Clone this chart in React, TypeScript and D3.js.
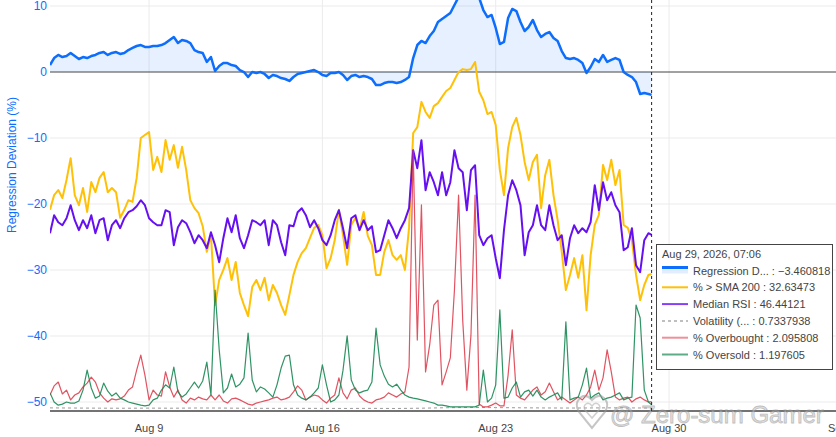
import * as d3 from "d3";

// 4-hourly readings from Aug 5 00:00 UTC, last value is the hovered point (Aug 29 07:06)
const regressionDeviation = [
  1.06, 2.12, 2.58, 2.27, 2.42, 2.88, 2.42, 1.97, 2.27, 2.12,
  2.42, 2.58, 2.88, 3.03, 2.58, 2.88, 3.03, 2.73, 2.88, 3.33,
  3.64, 3.94, 4.09, 3.79, 3.79, 3.94, 3.94, 4.09, 4.39, 4.85,
  5.3, 4.39, 4.85, 4.7, 4.39, 3.33, 3.03, 2.88, 1.52, 2.27,
  0.15, 0.91, 1.36, 1.36, 1.06, 0.91, 0.3, 0.0, -0.76, 0.0,
  -0.15, 0.0, -0.3, -0.91, -0.45, -0.61, -0.91, -1.06, -1.36, -0.76,
  -0.3, -0.15, 0.0, 0.15, 0.3, 0.0, -0.45, -0.61, -0.15, -0.15,
  0.0, -0.45, -1.21, -0.61, -0.45, -0.76, -0.61, -0.76, -1.06, -1.97,
  -1.97, -1.67, -1.52, -1.52, -1.67, -1.52, -1.21, -0.76, 2.12, 4.09,
  4.7, 4.39, 5.45, 6.21, 7.58, 8.03, 8.48, 8.94, 10.15, 11.36,
  11.82, 12.12, 11.67, 11.97, 11.21, 9.39, 8.33, 8.64, 6.67, 4.24,
  4.55, 8.18, 9.55, 9.24, 7.58, 6.21, 6.82, 7.88, 6.36, 5.3,
  5.76, 6.06, 5.15, 4.7, 3.18, 2.12, 1.97, 2.12, 1.82, 1.36,
  -0.15, 0.76, 1.97, 1.52, 2.58, 1.52, 1.82, 2.12, 1.82, 0.0,
  -0.45, -0.76, -1.52, -3.33, -3.18, -3.33, -3.460818,
];

const pctAboveSma200 = [
  47.9, 51.4, 52.6, 50.7, 55.0, 60.2, 51.4, 49.0, 53.1, 47.4,
  54.5, 52.1, 55.5, 56.9, 52.1, 53.1, 52.1, 46.0, 47.9, 50.2,
  49.8, 55.5, 65.0, 65.7, 66.4, 57.4, 60.5, 56.9, 64.5, 59.8,
  63.3, 57.9, 62.9, 57.4, 50.2, 48.3, 47.1, 44.0, 37.9, 41.9,
  25.2, 31.2, 33.6, 36.4, 31.2, 35.5, 28.1, 25.2, 22.6, 29.5,
  31.2, 28.8, 31.7, 26.4, 30.0, 28.1, 25.2, 22.9, 27.6, 32.4,
  35.5, 37.6, 38.8, 41.2, 43.6, 44.3, 41.9, 34.0, 36.4, 40.7,
  47.9, 41.9, 34.8, 44.3, 46.0, 43.1, 47.4, 41.7, 39.5, 32.4,
  32.4, 37.9, 40.7, 37.1, 36.0, 37.1, 33.6, 43.6, 66.2, 67.6,
  73.6, 71.2, 69.8, 72.6, 73.3, 74.8, 76.2, 76.9, 78.8, 80.7,
  81.4, 81.2, 81.4, 83.1, 76.0, 74.0, 70.7, 71.2, 68.1, 57.4,
  51.4, 62.6, 67.6, 69.8, 65.7, 59.3, 55.0, 59.3, 61.0, 48.3,
  56.2, 59.8, 51.4, 45.5, 37.9, 28.8, 32.4, 36.4, 31.7, 37.1,
  24.0, 37.1, 44.3, 46.7, 58.6, 55.0, 59.8, 53.8, 57.4, 44.3,
  43.6, 40.7, 32.4, 26.4, 30.0, 32.4, 32.63473,
];

const medianRsi = [
  46.8, 50.4, 49.0, 48.4, 49.8, 52.4, 49.4, 47.4, 49.4, 47.8,
  50.4, 46.8, 49.4, 49.8, 45.4, 48.4, 49.4, 47.8, 49.8, 51.0,
  51.4, 52.2, 53.4, 52.4, 49.8, 49.0, 48.4, 48.4, 51.4, 51.0,
  44.4, 48.0, 49.4, 48.8, 47.0, 44.8, 46.4, 45.4, 43.8, 47.0,
  44.4, 41.0, 45.8, 49.8, 47.0, 50.4, 45.8, 43.8, 46.4, 49.4,
  49.0, 48.4, 49.4, 44.4, 49.4, 48.4, 45.0, 42.4, 48.4, 48.2,
  51.0, 51.8, 50.4, 48.0, 49.4, 47.8, 45.4, 44.4, 46.4, 49.4,
  51.4, 47.8, 43.8, 49.8, 50.4, 47.4, 49.4, 47.4, 48.2, 43.0,
  43.4, 46.4, 49.4, 47.8, 45.8, 47.8, 49.4, 51.8, 63.4, 59.8,
  65.4, 55.4, 59.0, 57.0, 54.4, 59.0, 54.4, 57.0, 63.4, 59.8,
  59.0, 51.4, 59.4, 60.4, 46.4, 44.4, 45.8, 46.4, 41.8, 37.8,
  47.4, 54.4, 57.4, 55.4, 52.4, 42.4, 47.0, 48.4, 52.4, 48.4,
  47.4, 52.4, 48.4, 45.4, 46.4, 40.4, 45.8, 48.4, 46.8, 47.8,
  47.0, 49.0, 56.4, 51.4, 57.0, 53.4, 55.0, 52.4, 51.0, 43.4,
  44.0, 47.8, 40.4, 39.0, 45.4, 46.8, 46.44121,
];

const pctOverbought = [
  4.0, 6.6, 7.7, 4.3, 5.4, 2.6, 4.0, 4.6, 6.3, 7.4,
  9.1, 7.7, 4.6, 3.1, 2.0, 2.9, 2.6, 2.9, 3.7, 5.4,
  6.3, 11.1, 15.4, 9.7, 2.6, 5.4, 4.0, 3.7, 10.6, 6.3,
  3.4, 5.4, 2.6, 1.7, 3.1, 2.6, 3.4, 2.9, 2.6, 4.0,
  2.6, 4.0, 2.3, 1.7, 2.9, 3.1, 2.6, 2.0, 1.4, 1.1,
  1.7, 2.0, 2.3, 2.6, 3.1, 3.4, 2.6, 2.9, 3.4, 4.9,
  6.6, 5.4, 2.6, 3.4, 4.0, 3.7, 2.6, 1.7, 3.1, 4.0,
  8.9, 4.6, 2.9, 5.4, 6.0, 3.7, 2.6, 2.0, 1.7, 2.6,
  2.9, 3.4, 4.6, 4.0, 3.4, 4.3, 4.9, 12.0, 74.0, 19.7,
  58.3, 10.6, 18.3, 29.7, 31.1, 6.9, 10.6, 14.6, 34.0, 61.1,
  25.4, 5.4, 21.1, 61.1, 1.4, 0.6, 0.6, 1.1, 1.7, 0.9,
  0.9, 9.7, 22.6, 4.0, 3.1, 2.6, 4.0, 5.4, 6.3, 4.0,
  4.9, 7.4, 4.9, 2.6, 3.4, 2.6, 1.7, 2.6, 3.4, 2.6,
  4.0, 6.3, 11.1, 5.4, 8.9, 16.9, 10.6, 3.4, 2.6, 3.1,
  3.4, 2.0, 2.9, 3.4, 2.6, 2.0, 2.095808,
];

const pctOversold = [
  4.6, 2.0, 1.1, 1.4, 2.0, 1.7, 1.7, 2.3, 5.4, 11.1,
  6.0, 3.1, 3.7, 7.4, 5.1, 3.7, 4.6, 3.1, 2.6, 2.0,
  1.7, 1.4, 1.1, 0.9, 1.1, 2.6, 3.1, 5.4, 6.9, 6.0,
  12.0, 4.9, 3.4, 4.3, 6.0, 7.7, 6.0, 8.0, 13.4, 4.0,
  34.0, 16.9, 4.6, 6.0, 10.0, 6.3, 7.1, 8.9, 21.7, 8.3,
  4.9, 6.3, 5.7, 4.6, 3.4, 6.9, 11.7, 15.1, 15.4, 6.9,
  4.0, 3.1, 2.6, 3.4, 4.6, 6.0, 12.6, 6.9, 2.0, 2.6,
  4.0, 11.1, 20.9, 8.3, 5.4, 4.6, 5.1, 5.4, 7.7, 23.1,
  12.6, 9.4, 7.1, 6.3, 7.1, 5.4, 4.0, 3.4, 3.1, 2.9,
  2.6, 2.3, 2.0, 1.7, 1.1, 1.1, 0.9, 0.6, 0.6, 0.6,
  0.6, 0.6, 0.6, 0.6, 1.1, 11.1, 2.0, 3.1, 6.9, 28.3,
  3.1, 3.4, 6.0, 7.7, 3.4, 4.9, 5.4, 3.7, 5.4, 3.4,
  2.6, 3.4, 4.0, 4.6, 2.6, 24.9, 2.6, 3.1, 3.4, 6.9,
  11.7, 3.1, 4.0, 4.6, 2.6, 3.1, 3.4, 4.0, 4.6, 2.6,
  3.1, 3.4, 29.7, 26.0, 5.4, 2.0, 1.197605,
];

// daily readings, last value is the hovered point
const volatility = [
  0.78, 0.74, 0.71, 0.69, 0.72, 0.7, 0.75, 0.73, 0.68, 0.66,
  0.67, 0.65, 0.64, 0.66, 0.63, 0.7, 0.82, 0.88, 0.85, 0.8,
  0.76, 0.74, 0.77, 0.79, 0.75, 0.7337938,
];

const xTickDates = ["2026-08-09", "2026-08-16", "2026-08-23", "2026-08-30", "2026-09-06"];

const start = new Date(Date.UTC(2026, 7, 5, 0, 0));
const hoverTime = new Date(Date.UTC(2026, 7, 29, 7, 6));

function timesFor(values: number[], stepHours: number) {
  return values.map((_, i) =>
    i === values.length - 1 ? hoverTime : d3.utcHour.offset(start, i * stepHours)
  );
}

const blue = "#0d6efd";
const font = "Arial, 'Liberation Sans', sans-serif";

export default function App() {
  const width = 836;
  const height = 437;
  const left = 50;
  const top = -81;
  const bottom = 411;
  const dayPx = 24.762;

  const x = d3
    .scaleUtc()
    .domain([start, new Date(Date.UTC(2026, 8, 7))])
    .range([left, left + 33 * dayPx]);
  const yDev = d3.scaleLinear().domain([-51.36, 10]).range([bottom, 6]);
  const ySma = d3.scaleLinear().domain([0, 100]).range([bottom, -9]);
  const yRsi = d3.scaleLinear().domain([20, 70]).range([367.2, 117.2]);
  const yBreadth = d3.scaleLinear().domain([0, 100]).range([409, 59]);
  const yVol = d3.scaleLinear().domain([0, 5]).range([bottom, 391]);

  const t4 = timesFor(regressionDeviation, 4);
  const tDay = timesFor(volatility, 24);

  const path = (values: number[], times: Date[], y: d3.ScaleLinear<number, number>) =>
    d3
      .line<number>()
      .x((_, i) => x(times[i]))
      .y((d) => y(d))(values) || "";

  const devArea =
    d3
      .area<number>()
      .x((_, i) => x(t4[i]))
      .y0(yDev(0))
      .y1((d) => yDev(d))(regressionDeviation) || "";

  const fmt = d3.format(".7");
  const last = (a: number[]) => a[a.length - 1];
  const rows = [
    { label: "Regression D...", value: last(regressionDeviation), color: blue, w: 3, dash: "", fill: true, op: 1 },
    { label: "% > SMA 200", value: last(pctAboveSma200), color: "#ffc107", w: 2, dash: "", fill: false, op: 1 },
    { label: "Median RSI", value: last(medianRsi), color: "#6610f2", w: 2, dash: "", fill: false, op: 0.8 },
    { label: "Volatility (...", value: last(volatility), color: "#aaa", w: 1.5, dash: "3,3", fill: false, op: 1 },
    { label: "% Overbought", value: last(pctOverbought), color: "#dc3545", w: 2, dash: "", fill: false, op: 0.55 },
    { label: "% Oversold", value: last(pctOversold), color: "#198754", w: 2, dash: "", fill: false, op: 0.7 },
  ];

  const yTicks = yDev.ticks(6);
  const xTicks = xTickDates.map((s) => new Date(s + "T00:00:00Z"));
  const hx = x(hoverTime);

  return (
    <svg
      width={width}
      height={height}
      style={{ position: "absolute", left: 0, top: 0, background: "#fff" }}
      fontFamily={font}
    >
      <defs>
        <clipPath id="plot">
          <rect x={left} y={top} width={width - left + 40} height={bottom - top} />
        </clipPath>
      </defs>

      {/* grid */}
      {xTicks.map((d) => (
        <line key={+d} x1={x(d)} x2={x(d)} y1={top} y2={bottom} stroke="#ebebeb" />
      ))}
      {yTicks
        .filter((d) => d !== 0)
        .map((d) => (
          <line key={d} x1={left} x2={width} y1={yDev(d)} y2={yDev(d)} stroke="#ebebeb" />
        ))}
      <line x1={left} x2={width} y1={yDev(0)} y2={yDev(0)} stroke="#444" />

      <g clipPath="url(#plot)" fill="none" strokeLinejoin="round">
        <path d={devArea} fill={blue} fillOpacity={0.1} stroke="none" />
        <path d={path(regressionDeviation, t4, yDev)} stroke={blue} strokeWidth={2.5} />
        <path d={path(pctAboveSma200, t4, ySma)} stroke="#ffc107" strokeWidth={2} />
        <path d={path(medianRsi, t4, yRsi)} stroke="#6610f2" strokeWidth={2} />
        <path d={path(volatility, tDay, yVol)} stroke="#999" strokeWidth={1} strokeDasharray="3,3" />
        <path d={path(pctOverbought, t4, yBreadth)} stroke="#dc3545" strokeWidth={1.2} strokeOpacity={0.85} />
        <path d={path(pctOversold, t4, yBreadth)} stroke="#198754" strokeWidth={1.2} strokeOpacity={0.9} />
      </g>

      <line x1={left} x2={width} y1={bottom} y2={bottom} stroke="#444" strokeWidth={1.5} />

      {/* axes text */}
      {yTicks.map((d) => (
        <text key={d} x={47} y={yDev(d) + 4} textAnchor="end" fontSize={12} fill={blue}>
          {d3.format("d")(d)}
        </text>
      ))}
      <text
        transform={`translate(16, 165) rotate(-90)`}
        textAnchor="middle"
        fontSize={12}
        fill={blue}
      >
        Regression Deviation (%)
      </text>
      {xTicks.map((d) => (
        <text key={+d} x={x(d)} y={432} textAnchor="middle" fontSize={11} fill="#444">
          {d3.utcFormat("%b %-d")(d)}
        </text>
      ))}

      {/* watermark */}
      <g opacity={0.55}>
        <path
          d="M592 428 L579 412 Q574 404 580 398 Q586 393 592 400 Q598 393 604 398 Q610 404 605 412 Z"
          fill="none"
          stroke="#999"
          strokeWidth={2}
        />
        <path
          d="M592 418 L585 410 Q583 406 586 404 Q589 402 592 406 Q595 402 598 404 Q601 406 599 410 Z"
          fill="none"
          stroke="#aaa"
          strokeWidth={1.5}
        />
        <text x={610} y={423} fontSize={24} fill="#c8c8c8" stroke="#8a8a8a" strokeWidth={0.8}>
          @ Zero-sum Gamer
        </text>
      </g>

      {/* hover spike */}
      <line x1={hx} x2={hx} y1={0} y2={bottom} stroke="#222" strokeDasharray="3,3" />

      {/* unified hover label */}
      <g fontSize={11} fill="#444">
        <rect x={656.5} y={244.5} width={176} height={125} fill="#fff" stroke="#444" />
        <text x={662} y={257.5}>
          {d3.utcFormat("%b %-d, %Y, %H:%M")(hoverTime)}
        </text>
        {rows.map((r, i) => {
          const cy = 270.5 + i * 16.8;
          return (
            <g key={r.label}>
              {r.fill && <rect x={662} y={cy - 3} width={26} height={6} fill={blue} fillOpacity={0.12} />}
              <line
                x1={662}
                x2={688}
                y1={r.fill ? cy - 3 : cy}
                y2={r.fill ? cy - 3 : cy}
                stroke={r.color}
                strokeWidth={r.w}
                strokeOpacity={r.op}
                strokeDasharray={r.dash}
              />
              <text x={693} y={cy + 4}>
                {`${r.label} : ${fmt(r.value)}`}
              </text>
            </g>
          );
        })}
      </g>
    </svg>
  );
}
